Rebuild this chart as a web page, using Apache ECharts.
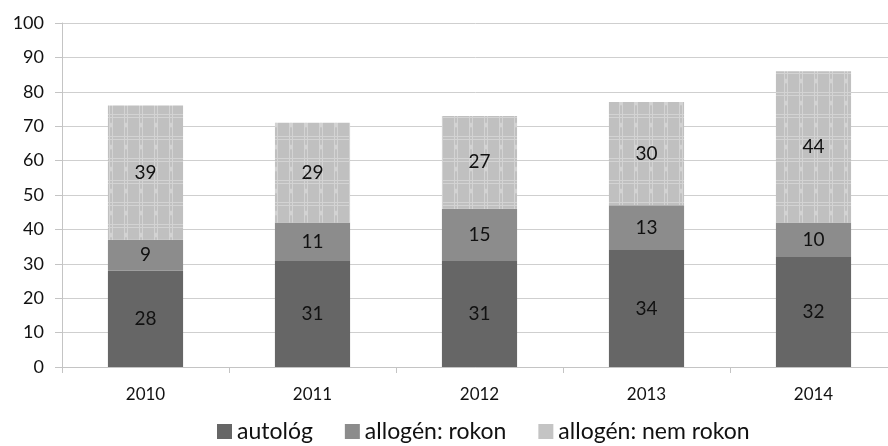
<!DOCTYPE html>
<html>
<head>
<meta charset="utf-8">
<script src="https://cdn.jsdelivr.net/npm/echarts@6/dist/echarts.min.js"></script>
<style>
html,body{margin:0;padding:0;background:#fff;}
#chart{width:888px;height:446px;}
</style>
</head>
<body>
<div id="chart"></div>
<script>
const years = ['2010', '2011', '2012', '2013', '2014'];
const autologous = [28, 31, 31, 34, 32];
const relatedDonor = [9, 11, 15, 13, 10];
const unrelatedDonor = [39, 29, 27, 30, 44];
const seriesNames = ['autológ', 'allogén: rokon', 'allogén: nem rokon'];

// light plaid texture for the top segment
function plaid() {
  const c = document.createElement('canvas');
  c.width = 15; c.height = 22;
  const g = c.getContext('2d');
  g.fillStyle = '#c0c0c0';
  g.fillRect(0, 0, 15, 22);
  g.fillStyle = '#d3d3d3';
  g.fillRect(4, 0, 1, 22);
  g.fillRect(7, 0, 1, 22);
  g.fillRect(0, 4, 15, 1);
  g.fillRect(0, 7, 15, 1);
  g.beginPath();
  g.ellipse(6, 15, 1.5, 2.5, 0, 0, Math.PI * 2);
  g.fill();
  return c;
}

const font = 'Lato, "Open Sans", sans-serif';
const labelStyle = { show: true, position: 'inside', color: '#111', fontSize: 19, fontFamily: font };

const chart = echarts.init(document.getElementById('chart'));
chart.setOption({
  animation: false,
  grid: { left: 62, width: 835, top: 23, bottom: 79, outerBoundsMode: 'none' },
  legend: {
    top: 420, left: 217, padding: 0,
    icon: 'rect',
    itemWidth: 15, itemHeight: 15, itemGap: 32,
    textStyle: { fontSize: 23, color: '#111', fontFamily: font },
    data: [
      { name: seriesNames[0] },
      { name: seriesNames[1] },
      { name: seriesNames[2], itemStyle: { color: '#c4c4c4' } }
    ]
  },
  xAxis: {
    type: 'category', data: years,
    axisLine: { lineStyle: { color: '#c4c4c4' } },
    axisTick: { show: true, length: 6, lineStyle: { color: '#c4c4c4' } },
    axisLabel: { color: '#111', fontSize: 17, fontFamily: font, margin: 19 }
  },
  yAxis: {
    type: 'value', min: 0, max: 100, interval: 10,
    axisLine: { show: true, lineStyle: { color: '#c4c4c4' } },
    axisTick: { show: true, length: 7, lineStyle: { color: '#c4c4c4' } },
    splitLine: { lineStyle: { color: '#cfcfcf' } },
    axisLabel: { color: '#111', fontSize: 18, fontFamily: font, margin: 18 }
  },
  series: [
    { name: seriesNames[0], type: 'bar', stack: 't', data: autologous, barWidth: '45%',
      itemStyle: { color: '#666666' }, label: labelStyle },
    { name: seriesNames[1], type: 'bar', stack: 't', data: relatedDonor,
      itemStyle: { color: '#8c8c8c' }, label: labelStyle },
    { name: seriesNames[2], type: 'bar', stack: 't', data: unrelatedDonor,
      itemStyle: { color: { image: plaid(), repeat: 'repeat' } }, label: labelStyle }
  ]
});
</script>
</body>
</html>
